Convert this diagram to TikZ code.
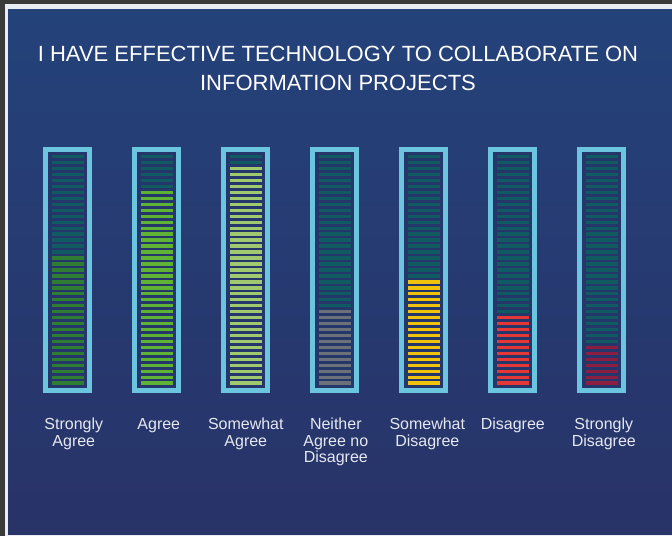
\documentclass[tikz,border=0pt]{standalone}
\usepackage{fontspec}
\setmainfont{Liberation Sans}
\usepackage{tikz}
\definecolor{Framegray}{HTML}{3A3A3A}
\definecolor{Paneltop}{HTML}{24427A}
\definecolor{Panelbottom}{HTML}{283368}
\definecolor{Gaugeframe}{HTML}{6CC5DE}
\definecolor{Gaugeinner}{HTML}{25376A}
\definecolor{Labelwhite}{HTML}{E6E8F0}
\definecolor{Lvloff}{HTML}{105B62}
\definecolor{Lvlsa}{HTML}{2E7D32}
\definecolor{Lvlag}{HTML}{5FB234}
\definecolor{Lvlswa}{HTML}{A0C86E}
\definecolor{Lvlnn}{HTML}{6B7079}
\definecolor{Lvlswd}{HTML}{F0C30A}
\definecolor{Lvldi}{HTML}{E63737}
\definecolor{Lvlsd}{HTML}{8C1E41}
\usetikzlibrary{positioning}
\tikzstyle{gauge} = [
    rectangle,
    minimum width=44pt,
    minimum height=241pt,
    outer sep=0pt,
    line width=5pt,
    draw=Gaugeframe,
    fill=Gaugeinner
]
\tikzstyle{answer} = [
    text=Labelwhite,
    font=\fontsize{16}{16.5}\selectfont,
    align=center,
    inner sep=0pt
]
\tikzstyle{heading} = [
    text=white,
    font=\fontsize{22}{28.5}\selectfont,
    align=center,
    inner sep=0pt,
    anchor=north
]

\begin{document}
\begin{tikzpicture}[x=1pt, y=-1pt]
				\useasboundingbox (0,0) rectangle (672,536);
				% screen frame and panel
				\fill[Framegray] (0,0) rectangle (672,536);
				\fill[white!90!Paneltop] (5,4) rectangle (672,536);
				\shade[top color=Paneltop, bottom color=Panelbottom] (8,9) rectangle (672,534);

				\node (title)        [heading] at (338,46)        {I HAVE EFFECTIVE TECHNOLOGY TO COLLABORATE ON\\INFORMATION PROJECTS};

				\node (barSA)        [gauge] at (67.8,270)                                   {};
				\node (barA)         [gauge, right=45pt of barSA]                            {};
				\node (barSWA)       [gauge, right=45pt of barA]                             {};
				\node (barN)         [gauge, right=45pt of barSWA]                           {};
				\node (barSWD)       [gauge, right=45pt of barN]                             {};
				\node (barD)         [gauge, right=45pt of barSWD]                           {};
				\node (barSD)        [gauge, right=45pt of barD]                             {};

				% level segments, top one first
				\foreach \bar/\lit/\shade in {barSA/22/Lvlsa, barA/33/Lvlag, barSWA/37/Lvlswa, barN/13/Lvlnn, barSWD/18/Lvlswd, barD/12/Lvldi, barSD/7/Lvlsd}{
				    \foreach \k in {1,...,39}{
				        \ifnum\k>\numexpr39-\lit\relax \def\segcol{\shade}\else \def\segcol{Lvloff}\fi
				        \fill[\segcol] (\bar.center) ++(-16,{-115+(\k-1)*5.96}) rectangle ++(32,3.4);
				    }
				}

				\node (lblSA)        [answer, below=27.5pt of barSA, xshift=6pt]             {Strongly\\Agree};
				\node (lblA)         [answer, below=27.5pt of barA, xshift=2pt]              {Agree};
				\node (lblSWA)       [answer, below=27.5pt of barSWA]                        {Somewhat\\Agree};
				\node (lblN)         [answer, below=27.5pt of barN, xshift=1pt]              {Neither\\Agree no\\Disagree};
				\node (lblSWD)       [answer, below=27.5pt of barSWD, xshift=3.5pt]          {Somewhat\\Disagree};
				\node (lblD)         [answer, below=27.5pt of barD]                          {Disagree};
				\node (lblSD)        [answer, below=27.5pt of barSD, xshift=2pt]             {Strongly\\Disagree};

		    \end{tikzpicture}
\end{document}
